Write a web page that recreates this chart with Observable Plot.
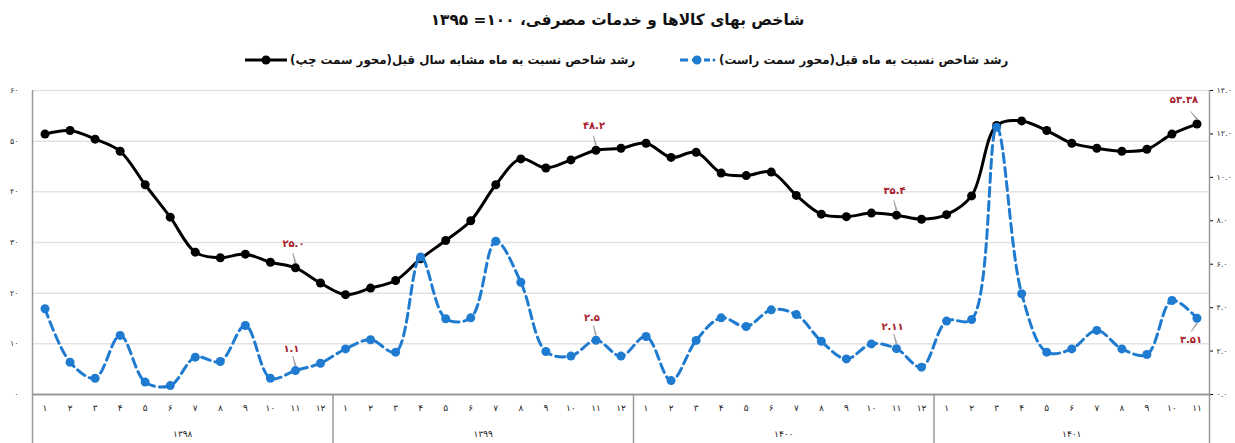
<!DOCTYPE html>
<html><head><meta charset="utf-8">
<script src="https://cdn.jsdelivr.net/npm/d3@7"></script>
<script src="https://cdn.jsdelivr.net/npm/@observablehq/plot@0.6"></script>
<style>
body{margin:0;background:#fff;font-family:"DejaVu Sans",sans-serif;}
#wrap{width:1235px;position:relative;}
#title{height:40px;line-height:40px;text-align:center;font-weight:bold;font-size:15.4px;direction:rtl;color:#111;}
#legend{height:40px;position:relative;}
.item{position:absolute;top:13px;display:flex;align-items:center;direction:ltr;font-size:11.8px;font-weight:bold;color:#111;}
.item span{direction:rtl;margin-left:3px;}
</style></head><body>
<div id="wrap"><div id="title"></div><div id="legend"></div><div id="chart"></div></div>
<script>
const titleText = "شاخص بهای کالاها و خدمات مصرفی، ۱۰۰= ۱۳۹۵";
const seriesNames = ["رشد شاخص نسبت به ماه مشابه سال قبل(محور سمت چپ)", "رشد شاخص نسبت به ماه قبل(محور سمت راست)"];
const years = ["1398", "1399", "1400", "1401"];
const monthsPerYear = [12, 12, 12, 11];
const yoy = [51.4, 52.1, 50.4, 48.0, 41.4, 35.0, 28.1, 27.0, 27.7, 26.1, 25.0, 22.0,
  19.7, 21.0, 22.5, 26.8, 30.4, 34.3, 41.4, 46.5, 44.7, 46.3, 48.2, 48.6,
  49.6, 46.8, 47.8, 43.7, 43.2, 43.9, 39.3, 35.6, 35.1, 35.8, 35.4, 34.6,
  35.5, 39.2, 53.1, 54.0, 52.1, 49.6, 48.6, 48.0, 48.4, 51.4, 53.38];
const mom = [3.95, 1.49, 0.75, 2.72, 0.57, 0.41, 1.72, 1.52, 3.18, 0.75, 1.1, 1.44,
  2.10, 2.52, 1.95, 6.33, 3.49, 3.53, 7.06, 5.17, 1.98, 1.77, 2.5, 1.77,
  2.67, 0.64, 2.49, 3.53, 3.13, 3.90, 3.68, 2.45, 1.64, 2.33, 2.11, 1.26,
  3.38, 3.45, 12.31, 4.64, 1.95, 2.10, 2.95, 2.10, 1.84, 4.33, 3.51];
const leftTicks = [0, 10, 20, 30, 40, 50, 60];
const rightTicks = [0, 2, 4, 6, 8, 10, 12, 14];
const yoyLabels = [{i: 10, t: "25.0"}, {i: 22, t: "48.2"}, {i: 34, t: "35.4"}, {i: 46, t: "53.38"}];
const momLabels = [{i: 10, t: "1.1"}, {i: 22, t: "2.5"}, {i: 34, t: "2.11"}, {i: 46, t: "3.51"}];

const fa = s => String(s).replace(/\d/g, d => "۰۱۲۳۴۵۶۷۸۹"[d]);
const BLACK = "#000", BLUE = "#1f7bd0", RED = "#a8202c", GRAY = "#9a9a9a";
const k = 60 / 14; // right axis → left axis scale factor

document.getElementById("title").textContent = titleText;

const rows = [];
let idx = 0;
years.forEach((y, yi) => { for (let m = 1; m <= monthsPerYear[yi]; m++) { rows.push({x: idx + 0.5, month: m, year: y, yoy: yoy[idx], mom: mom[idx]}); idx++; } });
const N = rows.length;
const bounds = [0]; monthsPerYear.forEach((n, i) => bounds.push(bounds[i] + n));
const yearMid = years.map((y, i) => (bounds[i] + bounds[i + 1]) / 2);

const leg = document.getElementById("legend");
leg.innerHTML = `
<div class="item" style="left:245px"><svg width="42" height="12"><line x1="0" y1="6" x2="42" y2="6" stroke="${BLACK}" stroke-width="3"/><circle cx="21" cy="6" r="4.5" fill="${BLACK}"/></svg><span>${seriesNames[0]}</span></div>
<div class="item" style="left:680px"><svg width="36" height="12"><line x1="0" y1="6" x2="30" y2="6" stroke="${BLUE}" stroke-width="3" stroke-dasharray="8,4"/><circle cx="17" cy="6" r="4.5" fill="${BLUE}"/><circle cx="34" cy="6" r="1.5" fill="${BLUE}"/></svg><span>${seriesNames[1]}</span></div>`;

const W = 1235, H = 363, mt = 10, mb = 49, ml = 32, mr = 26;
const plotH = H - mt - mb;

const annot = [];
const addLabel = (d, yv, dx, dy, rot) => {
  const pt = [{x: rows[d.i].x, y: yv, t: fa(d.t)}];
  annot.push(Plot.vector(pt, {x: "x", y: "y", length: 10, rotate: rot, anchor: "start", dy: dy > 0 ? 5 : -5, shape: "spike", r: 0.6, fill: GRAY, stroke: GRAY, strokeWidth: 0.6}));
  annot.push(Plot.text(pt, {x: "x", y: "y", text: "t", dx, dy, fill: RED, fontSize: 10, fontWeight: "bold"}));
};
yoyLabels.forEach(d => addLabel(d, rows[d.i].yoy, d.i === 46 ? -13 : -2, -24, d.i === 46 ? -40 : -15));
momLabels.forEach(d => d.i === 46 ? addLabel(d, rows[d.i].mom * k, -6, 22, 215) : addLabel(d, rows[d.i].mom * k, -4, -22, -15));

const chart = Plot.plot({
  width: W, height: H,
  marginTop: mt, marginBottom: mb, marginLeft: ml, marginRight: mr,
  style: {fontFamily: "DejaVu Sans, sans-serif", background: "#fff", overflow: "visible"},
  x: {type: "linear", domain: [0, N]},
  y: {domain: [0, 60]},
  marks: [
    Plot.ruleY(leftTicks.filter(d => d > 0), {stroke: "#e2e2e2", strokeWidth: 1.5}),
    Plot.axisY(leftTicks, {anchor: "left", tickSize: 0, tickPadding: 14, fontSize: 8, tickFormat: d => fa(d), label: null, fill: "#333"}),
    Plot.axisY(rightTicks.map(v => v * k), {anchor: "right", tickSize: 3, tickPadding: 4, fontSize: 8, tickFormat: d => fa((d / k).toFixed(1)), label: null, fill: "#333"}),
    Plot.axisX(rows.map(d => d.x), {tickSize: 0, tickPadding: 10, fontSize: 9, tickFormat: (d, i) => fa(rows[i].month), label: null, fill: "#222"}),
    Plot.axisX(yearMid, {tickSize: 0, tickPadding: 36, fontSize: 9, tickFormat: (d, i) => fa(years[i]), label: null, fill: "#222"}),
    Plot.ruleY([0], {stroke: GRAY, strokeWidth: 2}),
    Plot.ruleX([0, N], {stroke: GRAY, strokeWidth: 1.5, insetBottom: -mb}),
    Plot.ruleX(bounds.slice(1, -1), {stroke: GRAY, strokeWidth: 1.5, insetTop: plotH, insetBottom: -mb}),
    Plot.line(rows, {x: "x", y: "yoy", curve: "catmull-rom", stroke: BLACK, strokeWidth: 3}),
    Plot.dot(rows, {x: "x", y: "yoy", r: 4.5, fill: BLACK}),
    Plot.line(rows, {x: "x", y: d => d.mom * k, curve: "catmull-rom", stroke: BLUE, strokeWidth: 3, strokeDasharray: "9,5"}),
    Plot.dot(rows, {x: "x", y: d => d.mom * k, r: 4.5, fill: BLUE}),
    ...annot
  ]
});
document.getElementById("chart").appendChild(chart);
</script>
</body></html>
